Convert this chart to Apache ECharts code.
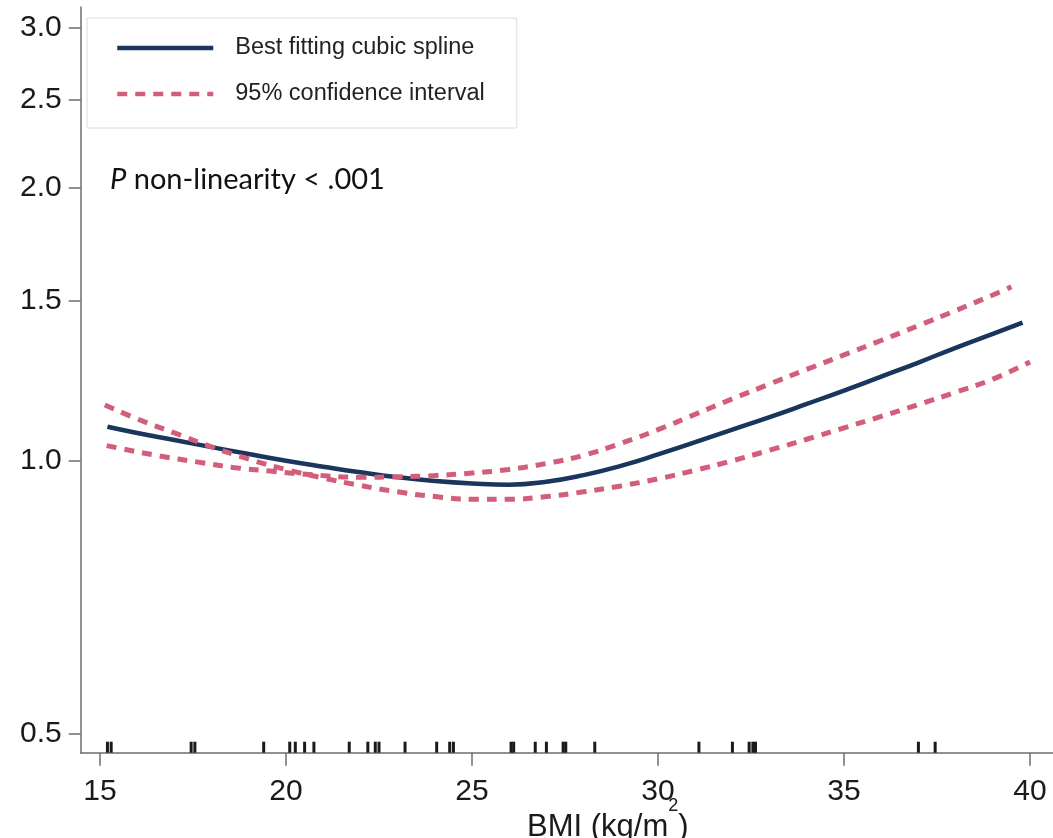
<!DOCTYPE html>
<html>
<head>
<meta charset="utf-8">
<script src="https://cdn.jsdelivr.net/npm/echarts@6/dist/echarts.min.js"></script>
<style>
html,body{margin:0;padding:0;background:#fff;}
#chart{width:1053px;height:838px;}
</style>
</head>
<body>
<div id="chart"></div>
<script>
// ---- data ----
const xTicks = [15, 20, 25, 30, 35, 40];
const yTicks = [0.5, 1.0, 1.5, 2.0, 2.5, 3.0];

// best fitting cubic spline (BMI, HR)
const splineBMI = [15.2, 16, 17, 18, 19, 20, 21, 22, 23, 24, 25, 26, 27, 28, 29, 30, 31, 32, 33, 34, 35, 36, 37, 38, 39, 39.8];
const splineHR  = [1.090, 1.073, 1.054, 1.035, 1.017, 1.000, 0.985, 0.971, 0.959, 0.950, 0.944, 0.941, 0.948, 0.964, 0.987, 1.016, 1.048, 1.082, 1.117, 1.155, 1.195, 1.238, 1.283, 1.332, 1.380, 1.420];

// 95% CI bound A (starts above, ends below)
const ciA_BMI = [15.13, 16, 17, 18, 19, 20, 21, 22, 23, 24, 25, 26, 27, 28, 29, 30, 31, 32, 33, 34, 35, 36, 37, 38, 39, 40];
const ciA_HR  = [1.152, 1.112, 1.073, 1.036, 1.004, 0.978, 0.957, 0.939, 0.924, 0.913, 0.907, 0.907, 0.913, 0.924, 0.938, 0.955, 0.976, 1.000, 1.027, 1.056, 1.087, 1.119, 1.153, 1.190, 1.230, 1.285];

// 95% CI bound B (starts below, ends above)
const ciB_BMI = [15.18, 15.63, 16.61, 17.60, 18.58, 19.57, 20.42, 22.03, 23.02, 24.0, 24.99, 25.98, 27, 28, 29, 30, 31, 32, 33, 34, 35, 36, 37, 38, 39, 39.5];
const ciB_HR  = [1.039, 1.030, 1.012, 0.997, 0.983, 0.974, 0.967, 0.959, 0.960, 0.963, 0.969, 0.978, 0.993, 1.014, 1.045, 1.082, 1.125, 1.170, 1.215, 1.261, 1.308, 1.357, 1.409, 1.464, 1.523, 1.555];

// rug of observed BMI values
const rugBMI = [15.2, 15.3, 17.45, 17.55, 19.4, 20.1, 20.25, 20.5, 20.75, 21.7, 22.2, 22.4, 22.5, 23.2, 24.05, 24.4, 24.5, 26.05, 26.12, 26.7, 27.0, 27.45, 27.52, 28.3, 31.1, 32.0, 32.45, 32.55, 32.62, 37.0, 37.45];

// ---- chart ----
const yMinLn = Math.log(0.4765);
const yMaxLn = Math.log(3.164);
const zip = (xs, ys) => xs.map((x, i) => [x, Math.log(ys[i])]);

const NAVY = '#1B365D';
const PINK = '#D25E7A';
const AXIS = '#6e6e6e';
const FONT = '"Liberation Sans", Arial, sans-serif';

const chart = echarts.init(document.getElementById('chart'), null, {renderer: 'canvas'});
chart.setOption({
  animation: false,
  backgroundColor: '#fff',
  grid: {left: 80.7, right: 0, top: 7, bottom: 85.3, containLabel: false},
  xAxis: {
    type: 'value',
    min: 14.481, max: 40.618,
    axisLine: {show: true, onZero: false, lineStyle: {color: AXIS, width: 1.5}},
    axisTick: {show: true, length: 13, lineStyle: {color: AXIS, width: 1.5}, customValues: xTicks},
    axisLabel: {show: true, customValues: xTicks, fontSize: 30, color: '#1a1a1a', fontFamily: FONT, margin: 24},
    splitLine: {show: false}
  },
  yAxis: {
    type: 'value',
    min: yMinLn, max: yMaxLn,
    axisLine: {show: true, onZero: false, lineStyle: {color: AXIS, width: 1.5}},
    axisTick: {show: true, length: 12, lineStyle: {color: AXIS, width: 1.5}, customValues: yTicks.map(Math.log)},
    axisLabel: {
      show: true, customValues: yTicks.map(Math.log), fontSize: 30, color: '#1a1a1a', fontFamily: FONT, margin: 19,
      formatter: v => Math.exp(v).toFixed(1)
    },
    splitLine: {show: false}
  },
  legend: {
    orient: 'vertical',
    left: 87, top: 18,
    itemWidth: 96, itemHeight: 20, itemGap: 22,
    padding: [18, 32, 22, 28],
    borderColor: '#dcdcdc', borderWidth: 1,
    lineStyle: {width: 4.5},
    itemStyle: {opacity: 0},
    textStyle: {fontSize: 23.5, color: '#222', fontFamily: FONT, padding: [0, 0, 0, 17]},
    data: ['Best fitting cubic spline', '95% confidence interval']
  },
  graphic: [
    {
      type: 'text', left: 110, top: 165,
      style: {
        text: '{i|P} non-linearity < .001',
        font: '29px Lato', fill: '#111',
        rich: {i: {fontStyle: 'italic', fontSize: 29, fontFamily: 'Lato', fill: '#111'}}
      }
    },
    {
      type: 'text', left: 527, top: 797,
      style: {
        text: '{m|BMI (kg/m}{s|2}{m|)}',
        rich: {
          m: {fontSize: 31, lineHeight: 60, fontFamily: FONT, fill: '#1a1a1a'},
          s: {fontSize: 18, lineHeight: 18, verticalAlign: 'top', fontFamily: FONT, fill: '#1a1a1a'}
        }
      }
    }
  ],
  series: [
    {
      name: 'Best fitting cubic spline', type: 'line', smooth: true, symbol: 'none',
      data: zip(splineBMI, splineHR),
      lineStyle: {color: NAVY, width: 4.5}, itemStyle: {color: NAVY}, z: 2
    },
    {
      name: '95% confidence interval', type: 'line', smooth: true, symbol: 'none',
      data: zip(ciA_BMI, ciA_HR),
      lineStyle: {color: PINK, width: 5, type: [10, 8]}, itemStyle: {color: PINK}, z: 3
    },
    {
      name: '95% confidence interval', type: 'line', smooth: true, symbol: 'none',
      data: zip(ciB_BMI, ciB_HR),
      lineStyle: {color: PINK, width: 5, type: [10, 8]}, itemStyle: {color: PINK}, z: 3
    },
    {
      name: 'rug', type: 'scatter', symbol: 'rect', symbolSize: [3, 11], symbolOffset: [0, -5.5],
      clip: false, silent: true,
      data: rugBMI.map(b => [b, yMinLn]),
      itemStyle: {color: '#1a1a1a', opacity: 1}, z: 4
    }
  ]
});
</script>
</body>
</html>
